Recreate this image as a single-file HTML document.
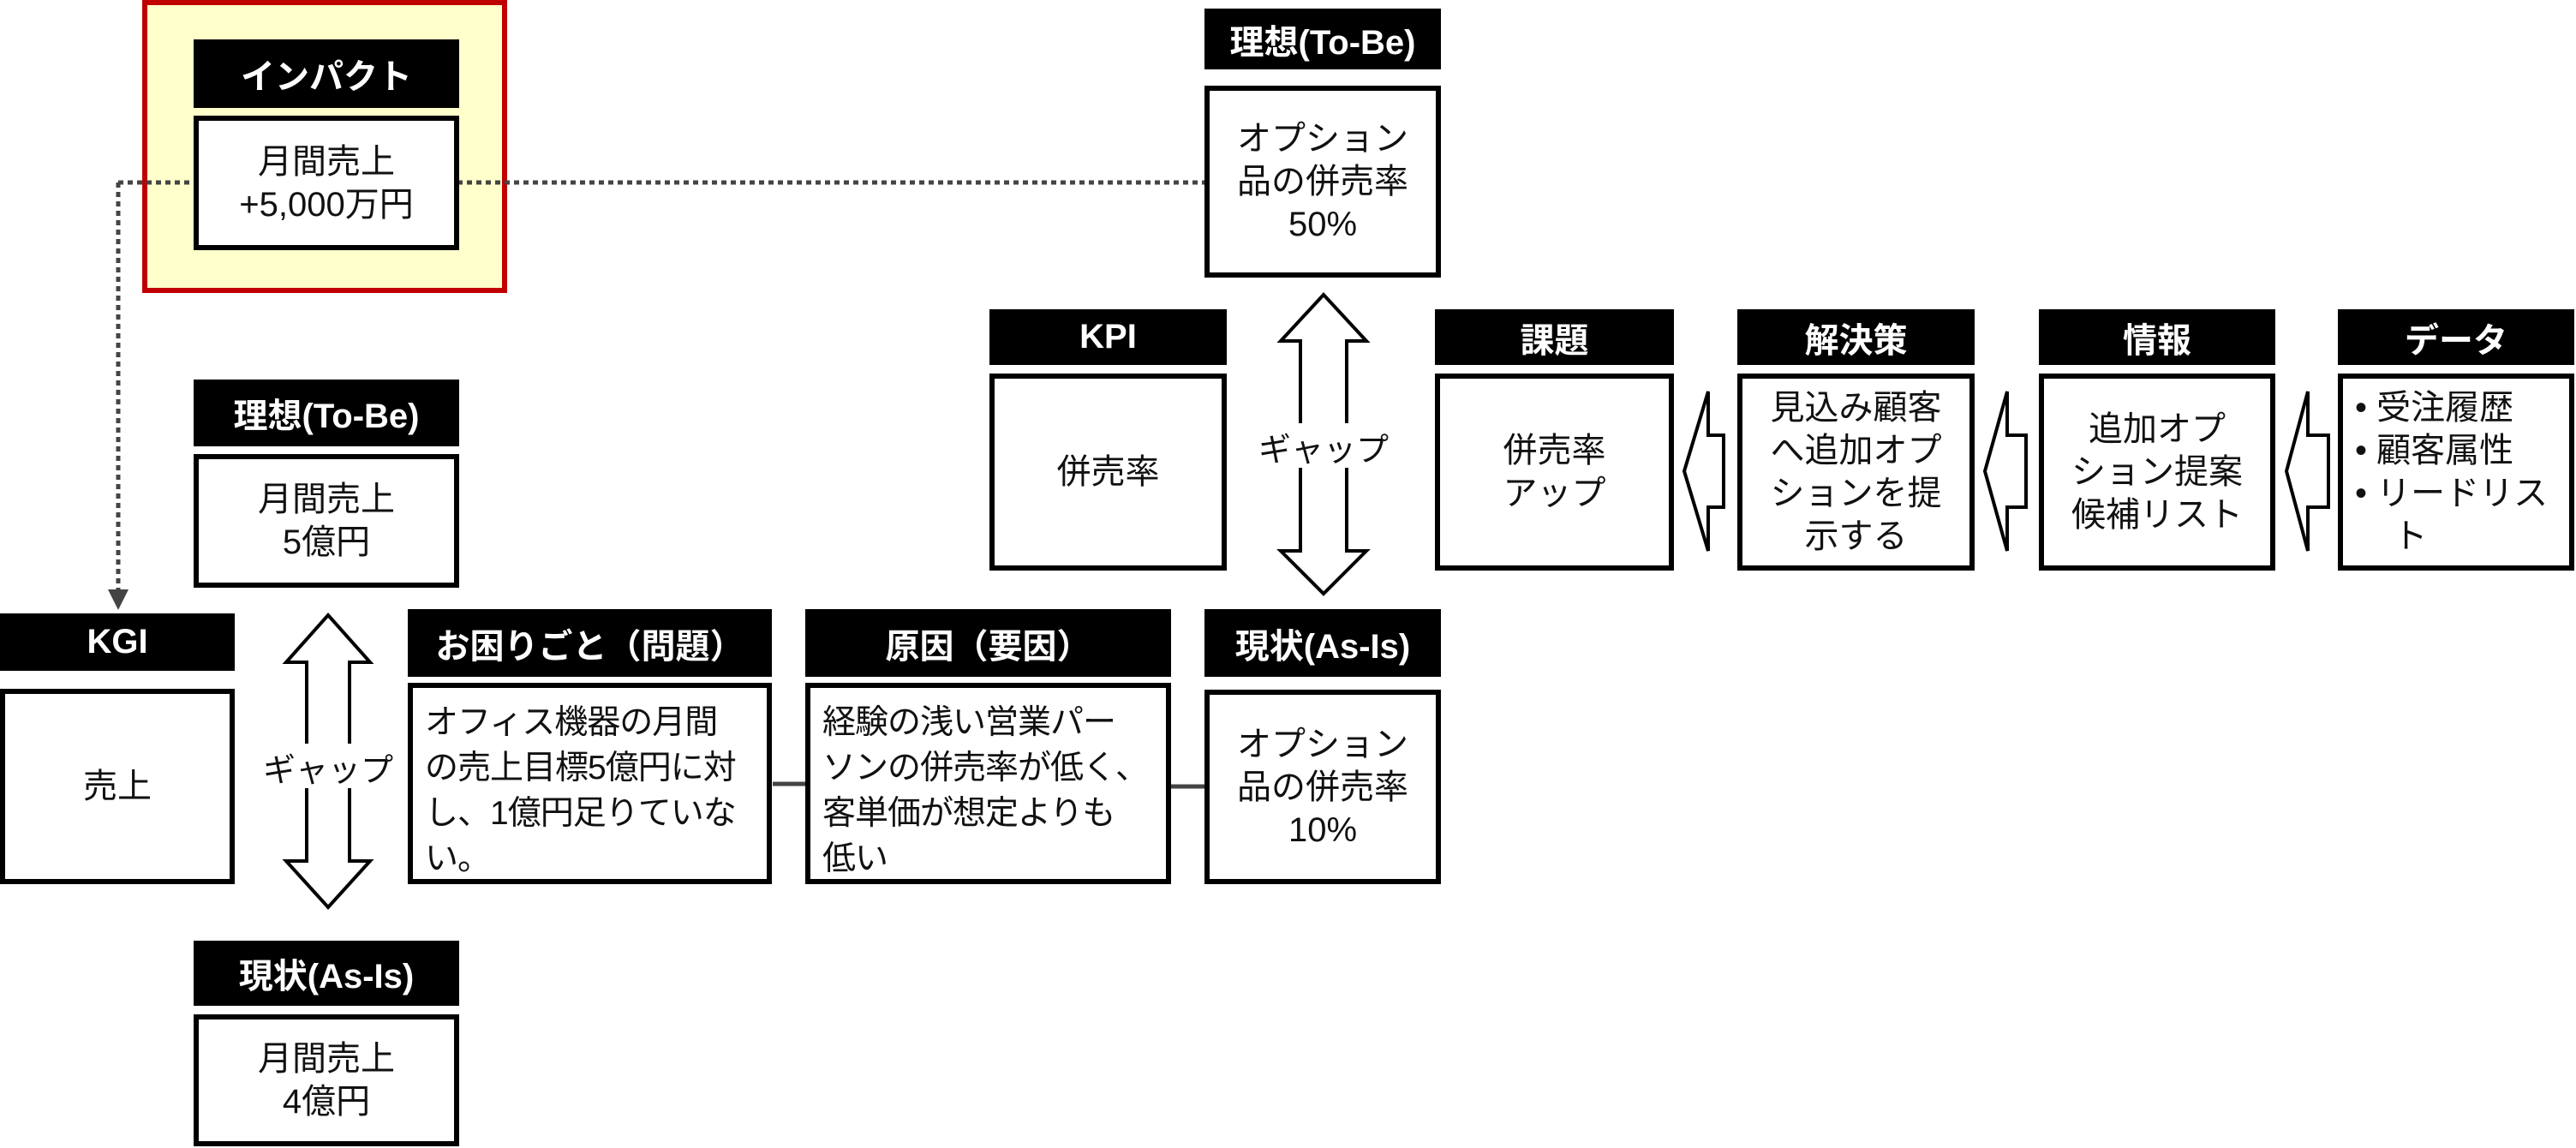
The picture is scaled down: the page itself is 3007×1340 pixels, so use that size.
<!DOCTYPE html>
<html><head><meta charset="utf-8"><style>
body{margin:0;width:3007px;height:1340px;background:#fff;position:relative;overflow:hidden;font-family:"Liberation Sans","Noto Sans CJK JP",sans-serif;}
.a{position:absolute;box-sizing:border-box;}
.h{background:#000;color:#fff;font-weight:bold;font-size:40px;display:flex;align-items:center;justify-content:center;white-space:nowrap;}
.c{background:#fff;border:6px solid #000;font-size:40px;line-height:50px;display:flex;align-items:center;justify-content:center;text-align:center;color:#111;white-space:nowrap;}
.t{background:#fff;border:6px solid #000;font-size:39px;line-height:53px;padding:14px 6px 0 14px;color:#111;text-align:left;white-space:nowrap;letter-spacing:-1px;overflow:hidden;}
.g{font-size:38px;background:#fff;text-align:center;color:#111;}
</style></head><body>
<svg class="a" style="left:0;top:0" width="3007" height="1340">
<rect x="169" y="3" width="420" height="336" fill="#ffffcc" stroke="#c00000" stroke-width="6"/>
<line x1="138" y1="213" x2="1407" y2="213" stroke="#444" stroke-width="5" stroke-dasharray="6,5"/>
<line x1="138" y1="213" x2="138" y2="690" stroke="#444" stroke-width="5" stroke-dasharray="6,5"/>
<polygon points="126,688 150,688 138,712" fill="#444"/>
<line x1="902" y1="915" x2="940" y2="915" stroke="#444" stroke-width="5"/>
<line x1="1367" y1="918" x2="1407" y2="918" stroke="#444" stroke-width="5"/>
<polygon points="383,718 432,773 408,773 408,1005 432,1005 383,1059 334,1005 358,1005 358,773 334,773" fill="#fff" stroke="#000" stroke-width="4"/>
<polygon points="1545,344 1595,398 1572,398 1572,643 1595,643 1545,693 1495,643 1518,643 1518,398 1495,398" fill="#fff" stroke="#000" stroke-width="4"/>
<polygon points="1966,550 1994,457 1994,508 2012,508 2012,592 1994,592 1994,643" fill="#fff" stroke="#000" stroke-width="4"/>
<polygon points="2317,550 2343,457 2343,508 2365,508 2365,592 2343,592 2343,643" fill="#fff" stroke="#000" stroke-width="4"/>
<polygon points="2669,550 2694,457 2694,508 2718,508 2718,592 2694,592 2694,643" fill="#fff" stroke="#000" stroke-width="4"/>
</svg>
<div class="a h" style="left:226px;top:46px;width:310px;height:80px">インパクト</div>
<div class="a c" style="left:226px;top:135px;width:310px;height:157px">月間売上<br>+5,000万円</div>
<div class="a h" style="left:226px;top:443px;width:310px;height:78px">理想(To-Be)</div>
<div class="a c" style="left:226px;top:530px;width:310px;height:156px">月間売上<br>5億円</div>
<div class="a h" style="left:0;top:716px;width:274px;height:67px">KGI</div>
<div class="a c" style="left:0;top:804px;width:274px;height:228px">売上</div>
<div class="a g" style="left:295px;top:868px;width:176px;height:52px">ギャップ</div>
<div class="a h" style="left:226px;top:1098px;width:310px;height:76px">現状(As-Is)</div>
<div class="a c" style="left:226px;top:1184px;width:310px;height:154px">月間売上<br>4億円</div>
<div class="a h" style="left:476px;top:711px;width:425px;height:79px">お困りごと（問題）</div>
<div class="a t" style="left:476px;top:797px;width:425px;height:235px">オフィス機器の月間<br>の売上目標5億円に対<br>し、1億円足りていな<br>い。</div>
<div class="a h" style="left:940px;top:711px;width:427px;height:79px">原因（要因）</div>
<div class="a t" style="left:940px;top:797px;width:427px;height:235px">経験の浅い営業パー<br>ソンの併売率が低く、<br>客単価が想定よりも<br>低い</div>
<div class="a h" style="left:1406px;top:711px;width:276px;height:79px">現状(As-Is)</div>
<div class="a c" style="left:1406px;top:805px;width:276px;height:227px">オプション<br>品の併売率<br>10%</div>
<div class="a h" style="left:1406px;top:10px;width:276px;height:71px">理想(To-Be)</div>
<div class="a c" style="left:1406px;top:100px;width:276px;height:224px">オプション<br>品の併売率<br>50%</div>
<div class="a g" style="left:1460px;top:494px;width:170px;height:52px">ギャップ</div>
<div class="a h" style="left:1155px;top:361px;width:277px;height:65px">KPI</div>
<div class="a c" style="left:1155px;top:436px;width:277px;height:230px">併売率</div>
<div class="a h" style="left:1675px;top:361px;width:279px;height:65px">課題</div>
<div class="a c" style="left:1675px;top:436px;width:279px;height:230px">併売率<br>アップ</div>
<div class="a h" style="left:2028px;top:361px;width:277px;height:65px">解決策</div>
<div class="a c" style="left:2028px;top:436px;width:277px;height:230px">見込み顧客<br>へ追加オプ<br>ションを提<br>示する</div>
<div class="a h" style="left:2380px;top:361px;width:276px;height:65px">情報</div>
<div class="a c" style="left:2380px;top:436px;width:276px;height:230px">追加オプ<br>ション提案<br>候補リスト</div>
<div class="a h" style="left:2729px;top:361px;width:276px;height:65px">データ</div>
<div class="a c" style="left:2729px;top:436px;width:276px;height:230px;justify-content:flex-start;text-align:left;padding-left:14px">•&nbsp;受注履歴<br>•&nbsp;顧客属性<br>•&nbsp;リードリス<br>&nbsp;&nbsp;&nbsp;&nbsp;ト</div>
</body></html>
